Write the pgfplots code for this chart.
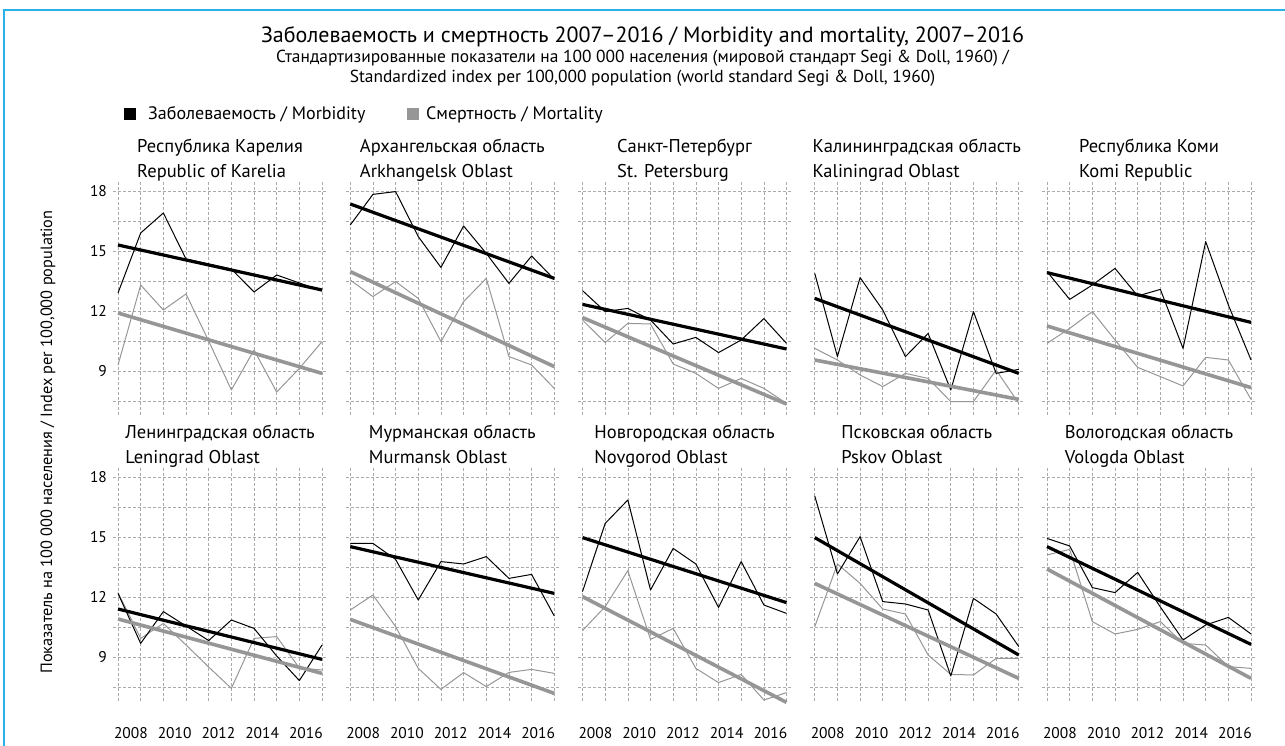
\documentclass[border=0pt]{standalone}
\usepackage{fontspec}
\setmainfont{PT Sans}
\usepackage{pgfplots}
\pgfplotsset{compat=1.18}
\definecolor{mgray}{RGB}{150,150,150}
\definecolor{ggrid}{RGB}{170,170,170}
\definecolor{framec}{RGB}{40,178,232}

\pgfplotsset{
 panel/.style={
  scale only axis, width=213.1pt, height=233pt,
  xmin=2006.8, xmax=2016.2, ymin=6.8, ymax=18.45,
  axis line style={draw=none}, major tick length=0pt,
  xtick={2007,2008,2009,2010,2011,2012,2013,2014,2015,2016},
  xticklabel=\empty,
  ytick={7.5,9,10.5,12,13.5,15,16.5,18},
  yticklabel=\empty,
  xmajorgrids, ymajorgrids,
  major grid style={ggrid, line width=0.6pt, dash pattern=on 3pt off 2pt},
  /pgf/number format/assume math mode=true,
  title style={at={(0.5,1)}, anchor=south, align=left, font=\fontsize{18.5}{25}\selectfont, inner sep=0pt, yshift=-9pt},
  tick label style={font=\fontsize{15.5}{16}\selectfont},
  clip=false, anchor=south west,
 },
 firstcol/.style={yticklabels={,9,,12,,15,,18}, yticklabel style={anchor=east, xshift=-3pt}},
 bottomrow/.style={extra x ticks={2007.57,2009.5,2011.43,2013.36,2015.29},
   extra x tick labels={2008,2010,2012,2014,2016},
   extra x tick style={xmajorgrids=false, xticklabel style={anchor=base, yshift=-38pt}}},
 mthin/.style={black, line width=1pt, line join=round},
 mtrend/.style={black, line width=3.2pt},
 gthin/.style={mgray, line width=1pt, line join=round},
 gtrend/.style={mgray, line width=3.6pt},
}

\begin{document}
\begin{tikzpicture}
\useasboundingbox (0pt,0pt) rectangle (1285pt,746pt);
\draw[framec, line width=1.3pt] (4pt,-2pt) -- (4pt,736pt) -- (1290pt,736pt);

\node[anchor=base, font=\fontsize{22}{26}\selectfont] at (642.5pt,703pt) {Заболеваемость и смертность 2007–2016 / Morbidity and mortality, 2007–2016};
\node[anchor=base, font=\fontsize{17.4}{20}\selectfont] at (642.5pt,683pt) {Стандартизированные показатели на 100 000 населения (мировой стандарт Segi \& Doll, 1960) /};
\node[anchor=base, font=\fontsize{17.4}{20}\selectfont] at (642.5pt,663pt) {Standardized index per 100,000 population (world standard Segi \& Doll, 1960)};

\fill[black] (124pt,626pt) rectangle (136pt,638pt);
\node[anchor=base west, inner sep=0pt, font=\fontsize{18}{20}\selectfont] at (148pt,626pt) {Заболеваемость / Morbidity};
\fill[mgray] (407pt,626pt) rectangle (419pt,638pt);
\node[anchor=base west, inner sep=0pt, font=\fontsize{18}{20}\selectfont] at (426pt,626pt) {Смертность / Mortality};

\node[rotate=90, anchor=base, font=\fontsize{16.3}{18}\selectfont] at (52pt,304pt) {Показатель на 100 000 населения / Index per 100,000 population};

% Row 1
\begin{axis}[panel, firstcol, at={(113.47pt,331pt)}, title={\strut Республика Карелия\\\strut Republic of Karelia}]
\addplot[gthin] coordinates {(2007,9.3) (2008,13.3) (2009,12.05) (2010,12.85) (2011,10.5) (2012,8.05) (2013,10.05) (2014,7.95) (2015,9.13) (2016,10.47)};
\addplot[mthin] coordinates {(2007,12.9) (2008,15.9) (2009,16.9) (2010,14.6) (2011,14.35) (2012,14.1) (2013,12.95) (2014,13.8) (2015,13.4) (2016,13.0)};
\addplot[gtrend] coordinates {(2007,11.9) (2016,8.88)};
\addplot[mtrend] coordinates {(2007,15.3) (2016,13.05)};
\end{axis}

\begin{axis}[panel, at={(345.72pt,331pt)}, title={\strut Архангельская область\\\strut Arkhangelsk Oblast}]
\addplot[gthin] coordinates {(2007,13.55) (2008,12.72) (2009,13.47) (2010,12.63) (2011,10.47) (2012,12.47) (2013,13.63) (2014,9.72) (2015,9.3) (2016,8.13)};
\addplot[mthin] coordinates {(2007,16.3) (2008,17.83) (2009,17.97) (2010,15.72) (2011,14.18) (2012,16.25) (2013,14.88) (2014,13.38) (2015,14.75) (2016,13.58)};
\addplot[gtrend] coordinates {(2007,13.97) (2016,9.22)};
\addplot[mtrend] coordinates {(2007,17.35) (2016,13.63)};
\end{axis}

\begin{axis}[panel, at={(577.97pt,331pt)}, title={\strut Санкт-Петербург\\\strut St. Petersburg}]
\addplot[gthin] coordinates {(2007,11.55) (2008,10.42) (2009,11.38) (2010,11.35) (2011,9.35) (2012,8.88) (2013,8.13) (2014,8.63) (2015,8.13) (2016,7.38)};
\addplot[mthin] coordinates {(2007,13.02) (2008,11.97) (2009,12.13) (2010,11.55) (2011,10.35) (2012,10.68) (2013,9.92) (2014,10.55) (2015,11.62) (2016,10.38)};
\addplot[gtrend] coordinates {(2007,11.67) (2016,7.35)};
\addplot[mtrend] coordinates {(2007,12.33) (2016,10.1)};
\end{axis}

\begin{axis}[panel, at={(810.22pt,331pt)}, title={\strut Калининградская область\\\strut Kaliningrad Oblast}]
\addplot[gthin] coordinates {(2007,10.13) (2008,9.55) (2009,8.8) (2010,8.22) (2011,8.88) (2012,8.63) (2013,7.47) (2014,7.47) (2015,9.05) (2016,7.38)};
\addplot[mthin] coordinates {(2007,13.88) (2008,9.72) (2009,13.67) (2010,12.05) (2011,9.72) (2012,10.88) (2013,8.05) (2014,11.97) (2015,8.88) (2016,9.08)};
\addplot[gtrend] coordinates {(2007,9.55) (2016,7.58)};
\addplot[mtrend] coordinates {(2007,12.63) (2016,8.88)};
\end{axis}

\begin{axis}[panel, at={(1042.47pt,331pt)}, title={\strut Республика Коми\\\strut Komi Republic}]
\addplot[gthin] coordinates {(2007,10.38) (2008,11.13) (2009,11.97) (2010,10.55) (2011,9.18) (2012,8.72) (2013,8.25) (2014,9.68) (2015,9.55) (2016,7.58)};
\addplot[mthin] coordinates {(2007,13.97) (2008,12.58) (2009,13.3) (2010,14.13) (2011,12.75) (2012,13.08) (2013,10.13) (2014,15.47) (2015,12.3) (2016,9.55)};
\addplot[gtrend] coordinates {(2007,11.25) (2016,8.17)};
\addplot[mtrend] coordinates {(2007,13.92) (2016,11.43)};
\end{axis}

% Row 2
\begin{axis}[panel, firstcol, bottomrow, at={(113.47pt,45pt)}, title={\strut Ленинградская область\\\strut Leningrad Oblast}]
\addplot[gthin] coordinates {(2007,12.22) (2008,9.93) (2009,10.68) (2010,9.6) (2011,8.5) (2012,7.43) (2013,9.93) (2014,10.02) (2015,8.45) (2016,8.35)};
\addplot[mthin] coordinates {(2007,12.18) (2008,9.68) (2009,11.27) (2010,10.55) (2011,9.82) (2012,10.85) (2013,10.43) (2014,9.05) (2015,7.82) (2016,9.6)};
\addplot[gtrend] coordinates {(2007,10.9) (2016,8.18)};
\addplot[mtrend] coordinates {(2007,11.4) (2016,8.88)};
\end{axis}

\begin{axis}[panel, bottomrow, at={(345.72pt,45pt)}, title={\strut Мурманская область\\\strut Murmansk Oblast}]
\addplot[gthin] coordinates {(2007,11.35) (2008,12.1) (2009,10.52) (2010,8.43) (2011,7.38) (2012,8.22) (2013,7.52) (2014,8.23) (2015,8.38) (2016,8.18)};
\addplot[mthin] coordinates {(2007,14.68) (2008,14.68) (2009,13.88) (2010,11.85) (2011,13.77) (2012,13.65) (2013,14.02) (2014,12.93) (2015,13.13) (2016,11.05)};
\addplot[gtrend] coordinates {(2007,10.88) (2016,7.18)};
\addplot[mtrend] coordinates {(2007,14.52) (2016,12.18)};
\end{axis}

\begin{axis}[panel, bottomrow, at={(577.97pt,45pt)}, title={\strut Новгородская область\\\strut Novgorod Oblast}]
\addplot[gthin] coordinates {(2007,10.32) (2008,11.52) (2009,13.32) (2010,9.88) (2011,10.43) (2012,8.43) (2013,7.72) (2014,8.13) (2015,6.85) (2016,7.22)};
\addplot[mthin] coordinates {(2007,12.27) (2008,15.68) (2009,16.85) (2010,12.35) (2011,14.43) (2012,13.65) (2013,11.48) (2014,13.77) (2015,11.6) (2016,11.18)};
\addplot[gtrend] coordinates {(2007,12.02) (2016,6.73)};
\addplot[mtrend] coordinates {(2007,14.97) (2016,11.72)};
\end{axis}

\begin{axis}[panel, bottomrow, at={(810.22pt,45pt)}, title={\strut Псковская область\\\strut Pskov Oblast}]
\addplot[gthin] coordinates {(2007,10.52) (2008,13.65) (2009,12.68) (2010,11.4) (2011,11.15) (2012,9.1) (2013,8.13) (2014,8.1) (2015,8.93) (2016,8.93)};
\addplot[mthin] coordinates {(2007,17.05) (2008,13.15) (2009,15.02) (2010,11.77) (2011,11.65) (2012,11.35) (2013,8.05) (2014,11.93) (2015,11.15) (2016,9.52)};
\addplot[gtrend] coordinates {(2007,12.68) (2016,7.93)};
\addplot[mtrend] coordinates {(2007,14.97) (2016,9.1)};
\end{axis}

\begin{axis}[panel, bottomrow, at={(1042.47pt,45pt)}, title={\strut Вологодская область\\\strut Vologda Oblast}]
\addplot[gthin] coordinates {(2007,14.1) (2008,14.38) (2009,10.77) (2010,10.15) (2011,10.38) (2012,10.77) (2013,9.68) (2014,9.6) (2015,8.52) (2016,8.43)};
\addplot[mthin] coordinates {(2007,14.93) (2008,14.55) (2009,12.47) (2010,12.22) (2011,13.23) (2012,11.5) (2013,9.85) (2014,10.6) (2015,10.98) (2016,10.15)};
\addplot[gtrend] coordinates {(2007,13.4) (2016,7.93)};
\addplot[mtrend] coordinates {(2007,14.52) (2016,9.63)};
\end{axis}
\end{tikzpicture}
\end{document}
